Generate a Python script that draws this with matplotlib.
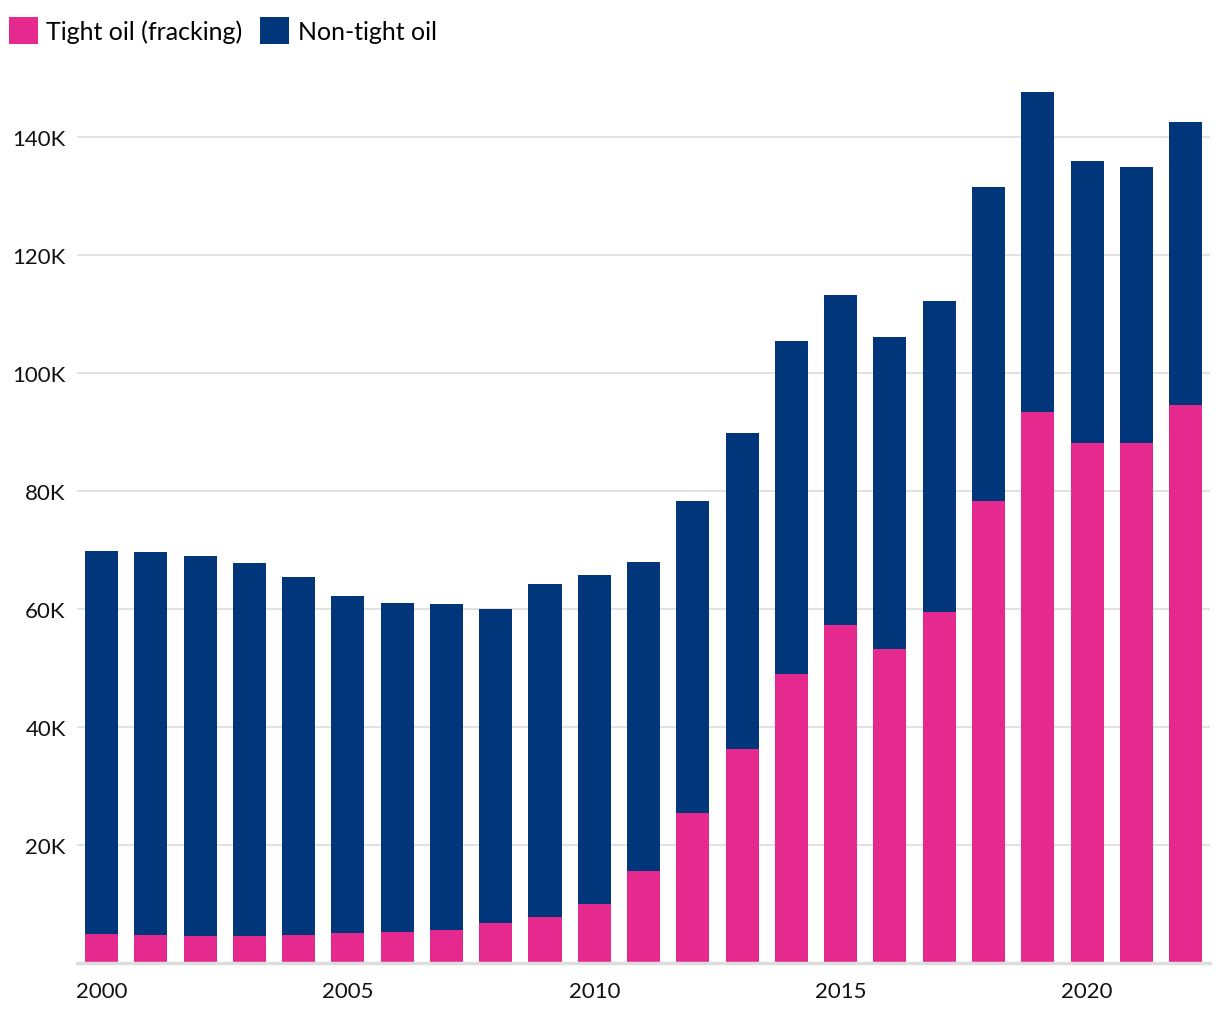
import numpy as np
import matplotlib.pyplot as plt
from matplotlib.ticker import FuncFormatter

plt.rcParams['font.family'] = ['Lato', 'DejaVu Sans']

# US crude oil production by type (thousand units)
years = list(range(2000, 2023))
total = [69.8, 69.7, 69.0, 67.8, 65.3, 62.2, 61.0, 60.8, 60.0, 64.2, 65.8, 68.0,
         78.3, 89.8, 105.4, 113.2, 106.1, 112.2, 131.4, 147.6, 135.8, 134.9, 142.5]
tight = [4.9, 4.7, 4.6, 4.6, 4.7, 5.1, 5.3, 5.6, 6.8, 7.8, 10.0, 15.6,
         25.4, 36.3, 49.0, 57.3, 53.1, 59.5, 78.3, 93.4, 88.1, 88.1, 94.6]
labels = ['Tight oil (fracking)', 'Non-tight oil']

tight = np.array(tight) * 1000
non_tight = np.array(total) * 1000 - tight

pink = '#e5298e'
navy = '#02367b'

fig = plt.figure(figsize=(12.2, 10.2), dpi=100)
ax = fig.add_axes([0.063, 0.055, 0.929, 0.857])

ax.bar(years, tight, width=0.67, color=pink, label=labels[0], zorder=2)
ax.bar(years, non_tight, width=0.67, bottom=tight, color=navy, label=labels[1], zorder=2)

ax.set_xlim(1999.5, 2022.5)
ax.set_ylim(0, 148100)
ax.set_yticks(range(20000, 140001, 20000))
ax.yaxis.set_major_formatter(FuncFormatter(lambda v, p: '%dK' % (v / 1000)))
ax.set_xticks(range(2000, 2023, 5))
ax.grid(axis='y', color='#dddddd', linewidth=1.2, zorder=0)

for s in ['top', 'right', 'left']:
    ax.spines[s].set_visible(False)
ax.spines['bottom'].set_color('#dddddd')
ax.spines['bottom'].set_linewidth(2.5)
ax.tick_params(axis='both', length=0, labelsize=16, colors='#111111')
ax.tick_params(axis='y', pad=8)
ax.tick_params(axis='x', pad=13)

fig.legend(loc='upper left', bbox_to_anchor=(-0.002, 0.993), ncol=2, frameon=False,
           fontsize=18, handlelength=1.15, handleheight=1.25, handletextpad=0.35,
           columnspacing=0.7, borderaxespad=0.0, borderpad=0.45)

plt.savefig('out.png')
